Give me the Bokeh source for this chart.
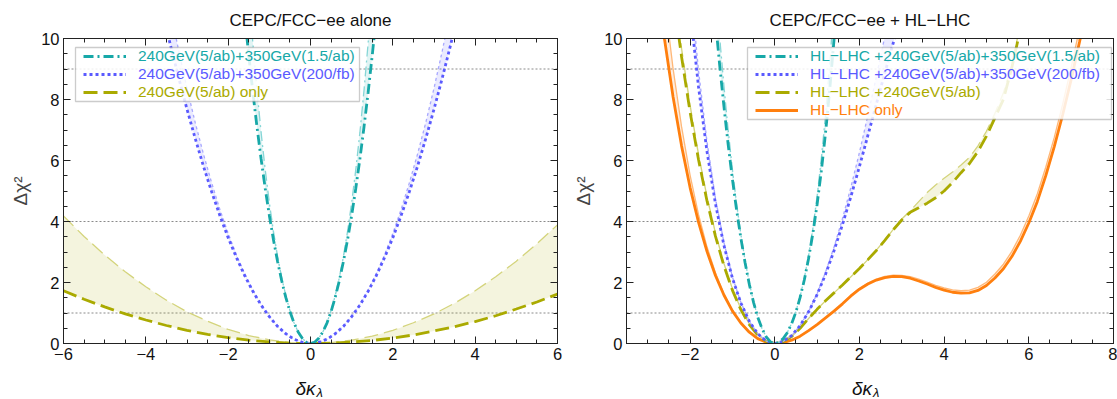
import numpy as np
from bokeh.plotting import figure
from bokeh.layouts import row, column
from bokeh.models import (Span, Label, Legend, LegendItem, BoxAnnotation,
                          LinearAxis, FixedTicker, Range1d)
from bokeh.embed import file_html
from bokeh.resources import INLINE

# ------------------------------------------------------------------ data
left_xticks = [-6, -4, -2, 0, 2, 4, 6]
right_xticks = [-2, 0, 2, 4, 6, 8]
yticks = [0, 2, 4, 6, 8, 10]
ref_levels = [1, 4, 9]

titles = ["CEPC/FCC\u2212ee alone", "CEPC/FCC\u2212ee + HL\u2212LHC"]
left_labels = ["240GeV(5/ab)+350GeV(1.5/ab)",
               "240GeV(5/ab)+350GeV(200/fb)",
               "240GeV(5/ab) only"]
right_labels = ["HL\u2212LHC +240GeV(5/ab)+350GeV(1.5/ab)",
                "HL\u2212LHC +240GeV(5/ab)+350GeV(200/fb)",
                "HL\u2212LHC +240GeV(5/ab)",
                "HL\u2212LHC only"]

# ---- left panel: CEPC/FCC-ee alone
L_teal_x = [-1.6, -1.5, -1.4, -1.3, -1.2, -1.1, -1.0, -0.9, -0.8, -0.7, -0.6, -0.5, -0.4,
            -0.3, -0.2, -0.1, 0.0, 0.1, 0.2, 0.3, 0.4, 0.5, 0.6, 0.7, 0.8, 0.9, 1.0, 1.1,
            1.2, 1.3, 1.4, 1.5, 1.6]
L_teal_thick = [10.75, 9.45, 8.23, 7.10, 6.05, 5.08, 4.20, 3.40, 2.69, 2.06, 1.51, 1.05, 0.67,
                0.38, 0.17, 0.04, 0.0, 0.04, 0.17, 0.38, 0.67, 1.05, 1.51, 2.06, 2.69, 3.40,
                4.20, 5.08, 6.05, 7.10, 8.23, 9.45, 10.75]
L_teal_thin = [13.50, 11.58, 9.85, 8.30, 6.92, 5.70, 4.62, 3.68, 2.86, 2.16, 1.57, 1.08, 0.68,
               0.38, 0.17, 0.04, 0.0, 0.04, 0.17, 0.38, 0.68, 1.08, 1.57, 2.16, 2.86, 3.68,
               4.62, 5.70, 6.92, 8.30, 9.85, 11.58, 13.50]

L_blue_x = [-3.6, -3.4, -3.2, -3.0, -2.8, -2.6, -2.4, -2.2, -2.0, -1.8, -1.6, -1.4, -1.2,
            -1.0, -0.8, -0.6, -0.4, -0.2, 0.0, 0.2, 0.4, 0.6, 0.8, 1.0, 1.2, 1.4, 1.6, 1.8,
            2.0, 2.2, 2.4, 2.6, 2.8, 3.0, 3.2, 3.4, 3.6]
L_blue_thick = [10.90, 9.77, 8.70, 7.68, 6.72, 5.81, 4.97, 4.19, 3.47, 2.82, 2.23, 1.71, 1.26,
                0.88, 0.56, 0.32, 0.14, 0.04, 0.0, 0.04, 0.14, 0.32, 0.56, 0.88, 1.26, 1.71,
                2.23, 2.82, 3.47, 4.19, 4.97, 5.81, 6.72, 7.68, 8.70, 9.77, 10.90]
L_blue_thin = [12.31, 10.90, 9.59, 8.37, 7.24, 6.21, 5.26, 4.39, 3.61, 2.91, 2.29, 1.75, 1.28,
               0.89, 0.57, 0.32, 0.14, 0.04, 0.0, 0.04, 0.14, 0.32, 0.57, 0.89, 1.28, 1.75,
               2.29, 2.91, 3.61, 4.39, 5.26, 6.21, 7.24, 8.37, 9.59, 10.90, 12.31]

L_olive_x = [-6.0, -5.5, -5.0, -4.5, -4.0, -3.5, -3.0, -2.5, -2.0, -1.5, -1.0, -0.5, 0.0,
             0.5, 1.0, 1.5, 2.0, 2.5, 3.0, 3.5, 4.0, 4.5, 5.0, 5.5, 6.0]
L_olive_thick = [1.73, 1.45, 1.20, 0.97, 0.77, 0.59, 0.43, 0.30, 0.19, 0.11, 0.05, 0.01, 0.0,
                 0.01, 0.05, 0.10, 0.18, 0.28, 0.41, 0.55, 0.72, 0.91, 1.13, 1.36, 1.62]
L_olive_thin = [4.18, 3.51, 2.90, 2.35, 1.86, 1.42, 1.04, 0.73, 0.46, 0.26, 0.12, 0.03, 0.0,
                0.03, 0.11, 0.24, 0.43, 0.68, 0.97, 1.32, 1.73, 2.19, 2.70, 3.27, 3.89]

# ---- right panel: CEPC/FCC-ee + HL-LHC
R_teal_x = [-1.4, -1.3, -1.2, -1.1, -1.0, -0.9, -0.8, -0.7, -0.6, -0.5, -0.4, -0.3, -0.2,
            -0.1, 0.0, 0.1, 0.2, 0.3, 0.4, 0.5, 0.6, 0.7, 0.8, 0.9, 1.0, 1.1, 1.2, 1.3,
            1.4, 1.5]
R_teal_thick = [10.58, 9.13, 7.78, 6.53, 5.40, 4.37, 3.46, 2.65, 1.94, 1.35, 0.86, 0.49, 0.22,
                0.05, 0.0, 0.04, 0.16, 0.36, 0.65, 1.03, 1.51, 2.09, 2.79, 3.60, 4.55, 5.65,
                6.90, 8.33, 9.95, 11.78]
R_teal_thin = [11.83, 10.05, 8.45, 7.01, 5.72, 4.59, 3.59, 2.72, 1.99, 1.37, 0.87, 0.49, 0.22,
               0.05, 0.0, 0.04, 0.16, 0.37, 0.66, 1.05, 1.54, 2.15, 2.89, 3.78, 4.82, 6.06,
               7.50, 9.18, 11.12, 13.37]

R_blue_x = [-2.0, -1.8, -1.6, -1.4, -1.2, -1.0, -0.8, -0.6, -0.4, -0.2, 0.0, 0.2, 0.4, 0.6,
            0.8, 1.0, 1.2, 1.4, 1.6, 1.8, 2.0, 2.2, 2.4, 2.6, 2.8, 3.0]
R_blue_thick = [11.00, 8.42, 6.30, 4.59, 3.22, 2.15, 1.33, 0.73, 0.32, 0.08, 0.0, 0.07, 0.26,
                0.59, 1.04, 1.60, 2.27, 3.04, 3.90, 4.82, 5.80, 6.82, 7.85, 8.87, 9.86, 10.80]
R_blue_thin = [11.88, 8.96, 6.63, 4.77, 3.32, 2.19, 1.35, 0.73, 0.32, 0.08, 0.0, 0.07, 0.26,
               0.59, 1.05, 1.63, 2.34, 3.16, 4.10, 5.13, 6.26, 7.48, 8.75, 10.07, 11.41, 12.74]

R_olive_x = [-2.4, -2.2, -2.0, -1.8, -1.6, -1.4, -1.2, -1.0, -0.8, -0.6, -0.4, -0.2, 0.0,
             0.2, 0.4, 0.6, 0.8, 1.0, 1.2, 1.4, 1.6, 1.8, 2.0, 2.2, 2.4, 2.6, 2.8, 3.0, 3.2,
             3.4, 3.6, 3.8, 4.0, 4.2, 4.4, 4.6, 4.8, 5.0, 5.2, 5.4, 5.6, 5.8]
R_olive_thick = [11.45, 9.40, 7.60, 6.03, 4.68, 3.52, 2.55, 1.75, 1.11, 0.62, 0.27, 0.07, 0.0,
                 0.06, 0.23, 0.50, 0.82, 1.12, 1.40, 1.66, 1.92, 2.19, 2.46, 2.75, 3.05, 3.38,
                 3.73, 4.05, 4.30, 4.45, 4.60, 4.78, 5.00, 5.28, 5.60, 5.90, 6.30, 6.80, 7.40,
                 8.00, 9.05, 10.30]
R_olive_thin = [11.80, 9.68, 7.83, 6.21, 4.82, 3.63, 2.63, 1.80, 1.14, 0.64, 0.28, 0.07, 0.0,
                0.06, 0.23, 0.50, 0.82, 1.12, 1.40, 1.66, 1.92, 2.19, 2.46, 2.75, 3.06, 3.39,
                3.74, 4.08, 4.35, 4.65, 4.95, 5.20, 5.42, 5.62, 5.85, 6.10, 6.48, 6.96, 7.55,
                8.22, 9.18, 10.45]

R_orange_x = [-2.8, -2.6, -2.4, -2.2, -2.0, -1.8, -1.6, -1.4, -1.2, -1.0, -0.8, -0.6, -0.4,
              -0.2, 0.0, 0.2, 0.4, 0.6, 0.8, 1.0, 1.2, 1.4, 1.6, 1.8, 2.0, 2.2, 2.4, 2.6,
              2.8, 3.0, 3.2, 3.4, 3.6, 3.8, 4.0, 4.2, 4.4, 4.6, 4.8, 5.0, 5.2, 5.4, 5.6, 5.8,
              6.0, 6.2, 6.4, 6.6, 6.8, 7.0, 7.2, 7.4]
R_orange_thick = [12.14, 9.96, 8.08, 6.48, 5.12, 3.98, 3.02, 2.23, 1.59, 1.07, 0.67, 0.37, 0.16,
                  0.04, 0.0, 0.03, 0.11, 0.24, 0.42, 0.62, 0.84, 1.06, 1.30, 1.56, 1.78, 1.95,
                  2.08, 2.16, 2.20, 2.19, 2.14, 2.05, 1.95, 1.84, 1.75, 1.68, 1.65, 1.66, 1.74,
                  1.90, 2.15, 2.45, 2.85, 3.35, 3.95, 4.65, 5.50, 6.45, 7.50, 8.65, 9.90, 11.20]
R_orange_thin = [14.05, 11.30, 9.01, 7.11, 5.53, 4.23, 3.17, 2.32, 1.63, 1.09, 0.68, 0.37, 0.16,
                 0.04, 0.0, 0.03, 0.11, 0.24, 0.42, 0.62, 0.84, 1.07, 1.31, 1.58, 1.80, 1.98,
                 2.11, 2.20, 2.24, 2.23, 2.19, 2.11, 2.01, 1.91, 1.82, 1.76, 1.73, 1.75, 1.84,
                 2.01, 2.28, 2.60, 3.02, 3.55, 4.18, 4.90, 5.78, 6.75, 7.85, 9.05, 10.35, 11.70]

# ------------------------------------------------------------------ style
FONT = "Liberation Sans"
TEAL, TEAL_L = "#17a8a8", "#86d6d6"
BLUE, BLUE_L = "#5a5aff", "#a8a8ff"
OLIVE, OLIVE_L = "#aaaa00", "#d4d47c"
ORANGE, ORANGE_L = "#ff7f0e", "#ffb878"
AX = "#222222"
PANEL_H = 369          # plot panels; a strip below holds the x-axis titles
STRIP_H = 30
TOP = 38
FRAME_H = 305
ROW_H = 18

STYLES = {
    "teal": (TEAL, TEAL_L, "10 4 2 4"),
    "blue": (BLUE, BLUE_L, "3 3"),
    "olive": (OLIVE, OLIVE_L, "14 6"),
    "orange": (ORANGE, ORANGE_L, "solid"),
}


def style_axis(ax, show_labels=True):
    ax.major_tick_in = 7
    ax.major_tick_out = 0
    ax.minor_tick_in = 4
    ax.minor_tick_out = 0
    ax.axis_line_color = AX
    ax.major_tick_line_color = AX
    ax.minor_tick_line_color = AX
    ax.major_label_text_font = FONT
    ax.major_label_text_font_size = "16.5px"
    ax.major_label_text_color = "#111111"
    ax.major_label_standoff = 4 if show_labels else 0


def minus(ticks):
    return {t: ("\u2212%g" % -t) for t in ticks if t < 0}


def make_panel(title, xr, xticks, width, b_left, b_right):
    p = figure(width=width, height=PANEL_H, x_range=Range1d(*xr), y_range=Range1d(0, 10),
               output_backend="svg", toolbar_location=None,
               min_border_left=b_left, min_border_right=b_right,
               min_border_top=TOP, min_border_bottom=PANEL_H - TOP - FRAME_H)
    p.xgrid.visible = False
    p.ygrid.visible = False
    p.outline_line_color = AX
    p.background_fill_color = "white"
    p.border_fill_color = "white"

    xminor = list(np.arange(xr[0], xr[1] + 1e-9, 0.5))
    yminor = list(np.arange(0, 10 + 1e-9, 0.5))

    xa = p.xaxis[0]
    xa.ticker = FixedTicker(ticks=xticks, minor_ticks=xminor)
    xa.major_label_overrides = minus(xticks)
    style_axis(xa)
    ya = p.yaxis[0]
    ya.ticker = FixedTicker(ticks=yticks, minor_ticks=yminor)
    style_axis(ya)
    ya.axis_label = "\u0394\u03c7\u00b2"
    ya.axis_label_text_font = FONT
    ya.axis_label_text_font_size = "19px"
    ya.axis_label_text_font_style = "normal"
    ya.axis_label_standoff = 7

    top = LinearAxis(ticker=FixedTicker(ticks=xticks, minor_ticks=xminor),
                     major_label_overrides={t: "" for t in xticks})
    style_axis(top, False)
    p.add_layout(top, "above")
    right = LinearAxis(ticker=FixedTicker(ticks=yticks, minor_ticks=yminor),
                       major_label_overrides={t: "" for t in yticks})
    style_axis(right, False)
    p.add_layout(right, "right")

    p.title.text = title
    p.title.align = "center"
    p.title.text_font = FONT
    p.title.text_font_size = "17px"
    p.title.text_font_style = "normal"
    p.title.text_color = "#111111"
    p.title.standoff = 17

    for lv in ref_levels:
        p.add_layout(Span(location=lv, dimension="width", line_color="#8a8a8a",
                          line_dash="2 2", line_width=1, level="underlay"))
    return p


def curve(p, key, x, thick, thin):
    c, cl, dash = STYLES[key]
    p.varea(x=x, y1=thick, y2=thin, fill_color=c, fill_alpha=0.13)
    p.line(x, thin, line_color=cl, line_width=1.3, line_dash=dash)
    return p.line(x, thick, line_color=c, line_width=2.8, line_dash=dash)


def add_legend(p, entries, x0, y_top, box_right):
    n = len(entries)
    p.add_layout(BoxAnnotation(left=x0 - 8, right=box_right, top=y_top,
                               bottom=y_top - n * ROW_H,
                               left_units="screen", right_units="screen",
                               top_units="screen", bottom_units="screen",
                               fill_color="white", fill_alpha=0.85,
                               line_color="#555555", line_width=1.3))
    for i, (label, rend, color) in enumerate(entries):
        lg = Legend(items=[LegendItem(label=label, renderers=[rend])],
                    location=(x0, y_top - (i + 1) * ROW_H),
                    margin=0, padding=0, spacing=0,
                    glyph_width=43, glyph_height=ROW_H, label_height=ROW_H,
                    label_standoff=12, border_line_alpha=0, background_fill_alpha=0,
                    label_text_font=FONT, label_text_font_size="15.5px",
                    label_text_color=color)
        p.add_layout(lg)


# ------------------------------------------------------------------ panels
W1, W2 = 570, 547
p1 = make_panel(titles[0], (-6, 6), left_xticks, W1, 63, 13)
r_ol = curve(p1, "olive", L_olive_x, L_olive_thick, L_olive_thin)
r_bl = curve(p1, "blue", L_blue_x, L_blue_thick, L_blue_thin)
r_te = curve(p1, "teal", L_teal_x, L_teal_thick, L_teal_thin)
add_legend(p1, [(left_labels[0], r_te, TEAL), (left_labels[1], r_bl, BLUE),
                (left_labels[2], r_ol, OLIVE)], 20, 296, 296)

p2 = make_panel(titles[1], (-3.5, 8), right_xticks, W2, 50, 4)
r2_or = curve(p2, "orange", R_orange_x, R_orange_thick, R_orange_thin)
r2_ol = curve(p2, "olive", R_olive_x, R_olive_thick, R_olive_thin)
r2_bl = curve(p2, "blue", R_blue_x, R_blue_thick, R_blue_thin)
r2_te = curve(p2, "teal", R_teal_x, R_teal_thick, R_teal_thin)
add_legend(p2, [(right_labels[0], r2_te, TEAL), (right_labels[1], r2_bl, BLUE),
                (right_labels[2], r2_ol, OLIVE), (right_labels[3], r2_or, ORANGE)],
           129, 296, 485)

# ---- strip under the panels carrying the x-axis titles  (δκ with subscript λ)
strip = figure(width=W1 + W2, height=STRIP_H, x_axis_type=None, y_axis_type=None,
               output_backend="svg", toolbar_location=None, min_border=0,
               x_range=Range1d(0, 1), y_range=Range1d(0, 1))
strip.outline_line_color = None
strip.xgrid.visible = False
strip.ygrid.visible = False
for cx in (63 + 494 / 2, W1 + 50 + 493 / 2):
    strip.add_layout(Label(x=cx + 5, y=11, x_units="screen", y_units="screen",
                           text="\u03b4\u03ba", text_align="right",
                           text_baseline="alphabetic", text_font=FONT,
                           text_font_size="19px", text_font_style="italic",
                           text_color="#111111"))
    strip.add_layout(Label(x=cx + 6, y=7, x_units="screen", y_units="screen",
                           text="\u03bb", text_align="left",
                           text_baseline="alphabetic", text_font=FONT,
                           text_font_size="13px", text_font_style="italic",
                           text_color="#111111"))

layout = column(row(p1, p2, spacing=0), strip, spacing=0)
open("out.html", "w").write(file_html(layout, INLINE))
